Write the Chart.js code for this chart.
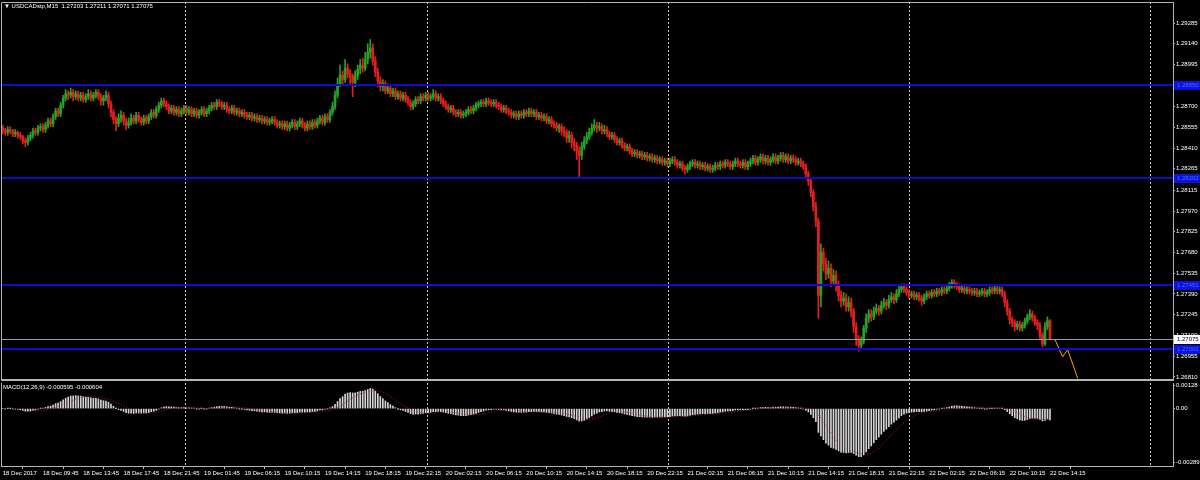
<!DOCTYPE html>
<html><head><meta charset="utf-8">
<script src="https://cdn.jsdelivr.net/npm/chart.js@4.4.1/dist/chart.umd.min.js"></script>
<style>
html,body{margin:0;padding:0;background:#000;overflow:hidden;}
#wrap{position:relative;width:1200px;height:480px;background:#000;}
canvas{position:absolute;left:0;}
#main{top:0;}
#macd{top:381px;}
.lbl{position:absolute;color:#fff;font:6px "Liberation Sans",Arial,sans-serif;white-space:pre;line-height:7px;}
</style></head><body>
<div id="wrap">
<canvas id="main" width="1200" height="381"></canvas>
<canvas id="macd" width="1200" height="99"></canvas>
<div class="lbl" style="left:4px;top:3px;">▼ USDCADstp,M15  1.27203 1.27211 1.27071 1.27075</div>
<div class="lbl" style="left:3px;top:384px;">MACD(12,26,9) -0.000595 -0.000604</div>
</div>
<script>
// ---------- DATA (USDCADstp, M15) ----------
const xLabels = ["18 Dec 2017","18 Dec 09:45","18 Dec 13:45","18 Dec 17:45","18 Dec 21:45","19 Dec 01:45","19 Dec 06:15","19 Dec 10:15","19 Dec 14:15","19 Dec 18:15","19 Dec 22:15","20 Dec 02:15","20 Dec 06:15","20 Dec 10:15","20 Dec 14:15","20 Dec 18:15","20 Dec 22:15","21 Dec 02:15","21 Dec 06:15","21 Dec 10:15","21 Dec 14:15","21 Dec 18:15","21 Dec 22:15","22 Dec 02:15","22 Dec 06:15","22 Dec 10:15","22 Dec 14:15"];
const xLabelBars = [0,16,32,48,64,80,96,112,128,144,160,176,192,208,224,240,256,272,288,304,320,336,352,368,384,400,416];
const daySeparators = [72.4,168.5,264.3,360,455.7];

const open = [
1.2855,1.2853,1.2852,1.2854,1.2853,1.2851,1.2852,1.2850,1.2849,1.2846,
1.2845,1.2848,1.2850,1.2853,1.2852,1.2855,1.2856,1.2854,1.2857,1.2860,
1.2858,1.2863,1.2867,1.2865,1.2871,1.2876,1.2879,1.2878,1.2880,1.2877,
1.2879,1.2876,1.2878,1.2875,1.2877,1.2879,1.2876,1.2878,1.2880,1.2877,
1.2874,1.2876,1.2878,1.2872,1.2866,1.2861,1.2858,1.2862,1.2864,1.2860,
1.2857,1.2859,1.2862,1.2860,1.2864,1.2861,1.2859,1.2862,1.2860,1.2863,
1.2866,1.2864,1.2868,1.2871,1.2874,1.2872,1.2870,1.2867,1.2869,1.2866,
1.2868,1.2865,1.2867,1.2869,1.2866,1.2868,1.2865,1.2867,1.2864,1.2866,
1.2868,1.2865,1.2867,1.2869,1.2871,1.2870,1.2873,1.2872,1.2870,1.2871,
1.2868,1.2867,1.2869,1.2866,1.2867,1.2865,1.2866,1.2864,1.2863,1.2864,
1.2862,1.2863,1.2861,1.2862,1.2860,1.2861,1.2859,1.2860,1.2861,1.2859,
1.2857,1.2858,1.2856,1.2858,1.2855,1.2857,1.2859,1.2856,1.2858,1.2860,
1.2857,1.2855,1.2858,1.2856,1.2859,1.2857,1.2860,1.2862,1.2859,1.2863,
1.2861,1.2866,1.2870,1.2878,1.2886,1.2892,1.2889,1.2897,1.2893,1.2891,
1.2887,1.2892,1.2896,1.2899,1.2897,1.2903,1.2908,1.2911,1.2902,1.2894,
1.2888,1.2884,1.2886,1.2881,1.2883,1.2879,1.2881,1.2877,1.2879,1.2876,
1.2878,1.2875,1.2873,1.2870,1.2872,1.2875,1.2874,1.2877,1.2876,1.2878,
1.2876,1.2877,1.2879,1.2876,1.2877,1.2874,1.2872,1.2870,1.2868,1.2869,
1.2866,1.2865,1.2866,1.2864,1.2865,1.2866,1.2868,1.2867,1.2869,1.2871,
1.2872,1.2873,1.2872,1.2874,1.2873,1.2872,1.2873,1.2871,1.2870,1.2868,
1.2869,1.2867,1.2866,1.2864,1.2865,1.2863,1.2865,1.2864,1.2866,1.2865,
1.2867,1.2865,1.2866,1.2863,1.2864,1.2862,1.2863,1.2860,1.2861,1.2858,
1.2857,1.2855,1.2856,1.2853,1.2852,1.2848,1.2850,1.2845,1.2843,1.2839,
1.2836,1.2842,1.2846,1.2849,1.2852,1.2855,1.2857,1.2855,1.2856,1.2853,
1.2854,1.2851,1.2849,1.2850,1.2847,1.2845,1.2846,1.2843,1.2841,1.2842,
1.2839,1.2837,1.2838,1.2836,1.2837,1.2835,1.2836,1.2834,1.2835,1.2833,
1.2834,1.2832,1.2833,1.2831,1.2832,1.2830,1.2832,1.2833,1.2831,1.2829,
1.2830,1.2827,1.2826,1.2828,1.2830,1.2831,1.2829,1.2830,1.2828,1.2829,
1.2827,1.2828,1.2826,1.2827,1.2829,1.2828,1.2830,1.2829,1.2831,1.2830,
1.2828,1.2830,1.2832,1.2830,1.2829,1.2831,1.2828,1.2830,1.2832,1.2834,
1.2831,1.2833,1.2835,1.2832,1.2834,1.2831,1.2833,1.2835,1.2832,1.2834,
1.2836,1.2833,1.2835,1.2832,1.2834,1.2833,1.2831,1.2832,1.2830,1.2828,
1.2823,1.2818,1.2810,1.2800,1.2790,1.2738,1.2768,1.2760,1.2753,1.2757,
1.2748,1.2752,1.2745,1.2738,1.2734,1.2736,1.2730,1.2733,1.2727,1.2716,
1.2707,1.2703,1.2706,1.2715,1.2722,1.2725,1.2723,1.2727,1.2729,1.2727,
1.2731,1.2733,1.2731,1.2735,1.2737,1.2735,1.2739,1.2742,1.2744,1.2742,
1.2740,1.2738,1.2739,1.2737,1.2738,1.2736,1.2734,1.2737,1.2739,1.2738,
1.2740,1.2739,1.2741,1.2740,1.2742,1.2741,1.2743,1.2745,1.2747,1.2745,
1.2744,1.2742,1.2743,1.2741,1.2742,1.2741,1.2740,1.2741,1.2739,1.2740,
1.2741,1.2739,1.2740,1.2742,1.2741,1.2743,1.2741,1.2742,1.2739,1.2733,
1.2727,1.2721,1.2719,1.2716,1.2718,1.2715,1.2717,1.2720,1.2723,1.2725,
1.2722,1.2719,1.2717,1.2710,1.2704,1.2716,1.27203];

const high = [
1.2857,1.2855,1.2856,1.2856,1.2854,1.2854,1.2853,1.2852,1.2850,1.2848,
1.2850,1.2852,1.2855,1.2855,1.2857,1.2858,1.2858,1.2859,1.2862,1.2862,
1.2865,1.2869,1.2869,1.2873,1.2878,1.2882,1.2881,1.2883,1.2882,1.2881,
1.2881,1.2880,1.2880,1.2879,1.2882,1.2881,1.2880,1.2882,1.2882,1.2879,
1.2878,1.2881,1.2880,1.2874,1.2868,1.2863,1.2865,1.2867,1.2866,1.2862,
1.2862,1.2865,1.2864,1.2866,1.2866,1.2863,1.2864,1.2864,1.2865,1.2868,
1.2868,1.2870,1.2873,1.2876,1.2876,1.2874,1.2872,1.2871,1.2871,1.2870,
1.2870,1.2869,1.2871,1.2871,1.2870,1.2870,1.2869,1.2869,1.2868,1.2870,
1.2870,1.2869,1.2871,1.2873,1.2873,1.2875,1.2875,1.2874,1.2873,1.2873,
1.2870,1.2871,1.2871,1.2869,1.2869,1.2868,1.2868,1.2866,1.2866,1.2866,
1.2865,1.2865,1.2864,1.2864,1.2863,1.2863,1.2862,1.2863,1.2863,1.2861,
1.2860,1.2860,1.2860,1.2860,1.2859,1.2861,1.2861,1.2860,1.2862,1.2862,
1.2859,1.2860,1.2860,1.2861,1.2861,1.2862,1.2864,1.2864,1.2865,1.2865,
1.2868,1.2873,1.2881,1.2890,1.2899,1.2895,1.2903,1.2900,1.2896,1.2893,
1.2895,1.2899,1.2903,1.2904,1.2908,1.2914,1.2917,1.2914,1.2905,1.2897,
1.2891,1.2889,1.2888,1.2886,1.2885,1.2883,1.2883,1.2881,1.2881,1.2880,
1.2880,1.2877,1.2875,1.2874,1.2877,1.2877,1.2879,1.2879,1.2880,1.2880,
1.2879,1.2882,1.2881,1.2879,1.2879,1.2876,1.2874,1.2872,1.2871,1.2871,
1.2868,1.2868,1.2868,1.2867,1.2868,1.2870,1.2870,1.2871,1.2873,1.2874,
1.2875,1.2875,1.2876,1.2876,1.2875,1.2875,1.2875,1.2873,1.2872,1.2871,
1.2871,1.2869,1.2868,1.2867,1.2867,1.2867,1.2867,1.2868,1.2868,1.2869,
1.2869,1.2868,1.2868,1.2866,1.2866,1.2865,1.2865,1.2863,1.2863,1.2860,
1.2859,1.2858,1.2858,1.2856,1.2854,1.2853,1.2852,1.2848,1.2845,1.2842,
1.2845,1.2849,1.2852,1.2855,1.2858,1.2861,1.2859,1.2859,1.2858,1.2857,
1.2856,1.2853,1.2852,1.2852,1.2849,1.2848,1.2848,1.2845,1.2844,1.2844,
1.2841,1.2840,1.2840,1.2839,1.2839,1.2838,1.2838,1.2837,1.2837,1.2836,
1.2836,1.2835,1.2835,1.2834,1.2834,1.2834,1.2835,1.2835,1.2833,1.2832,
1.2832,1.2829,1.2830,1.2832,1.2833,1.2833,1.2832,1.2832,1.2831,1.2831,
1.2830,1.2830,1.2829,1.2831,1.2831,1.2832,1.2832,1.2833,1.2833,1.2832,
1.2832,1.2834,1.2834,1.2832,1.2833,1.2833,1.2832,1.2834,1.2836,1.2836,
1.2835,1.2837,1.2837,1.2836,1.2836,1.2835,1.2837,1.2837,1.2836,1.2838,
1.2838,1.2837,1.2837,1.2836,1.2836,1.2835,1.2834,1.2834,1.2832,1.2830,
1.2825,1.2820,1.2812,1.2803,1.2792,1.2774,1.2771,1.2764,1.2762,1.2760,
1.2756,1.2755,1.2748,1.2741,1.2740,1.2739,1.2737,1.2736,1.2729,1.2719,
1.2710,1.2709,1.2717,1.2725,1.2728,1.2728,1.2730,1.2732,1.2731,1.2734,
1.2736,1.2735,1.2738,1.2740,1.2739,1.2742,1.2745,1.2746,1.2746,1.2744,
1.2742,1.2741,1.2741,1.2740,1.2740,1.2738,1.2739,1.2741,1.2741,1.2742,
1.2742,1.2743,1.2743,1.2744,1.2744,1.2745,1.2747,1.2749,1.2749,1.2747,
1.2746,1.2745,1.2745,1.2744,1.2744,1.2743,1.2743,1.2743,1.2742,1.2743,
1.2743,1.2742,1.2744,1.2744,1.2745,1.2745,1.2744,1.2744,1.2741,1.2735,
1.2729,1.2723,1.2721,1.2720,1.2720,1.2719,1.2722,1.2725,1.2728,1.2727,
1.2724,1.2721,1.2719,1.2712,1.2719,1.2723,1.27211];

const low = [
1.2851,1.2850,1.2850,1.2851,1.2849,1.2849,1.2848,1.2847,1.2844,1.2842,
1.2843,1.2846,1.2848,1.2850,1.2850,1.2853,1.2852,1.2852,1.2855,1.2856,
1.2856,1.2861,1.2863,1.2863,1.2869,1.2874,1.2875,1.2876,1.2874,1.2875,
1.2874,1.2874,1.2873,1.2873,1.2875,1.2874,1.2874,1.2876,1.2875,1.2871,
1.2871,1.2874,1.2869,1.2863,1.2858,1.2853,1.2856,1.2859,1.2857,1.2854,
1.2855,1.2857,1.2858,1.2858,1.2859,1.2857,1.2857,1.2858,1.2858,1.2861,
1.2862,1.2862,1.2866,1.2869,1.2870,1.2868,1.2865,1.2865,1.2864,1.2864,
1.2863,1.2863,1.2865,1.2864,1.2864,1.2863,1.2863,1.2862,1.2862,1.2864,
1.2863,1.2863,1.2865,1.2867,1.2868,1.2868,1.2870,1.2868,1.2868,1.2866,
1.2865,1.2865,1.2864,1.2864,1.2863,1.2863,1.2862,1.2861,1.2861,1.2860,
1.2860,1.2859,1.2859,1.2858,1.2858,1.2857,1.2857,1.2858,1.2857,1.2855,
1.2855,1.2854,1.2854,1.2853,1.2853,1.2855,1.2854,1.2854,1.2856,1.2855,
1.2853,1.2853,1.2854,1.2854,1.2855,1.2855,1.2858,1.2857,1.2857,1.2859,
1.2859,1.2864,1.2868,1.2876,1.2884,1.2885,1.2887,1.2890,1.2886,1.2877,
1.2884,1.2889,1.2893,1.2894,1.2895,1.2900,1.2904,1.2899,1.2891,1.2884,
1.2881,1.2881,1.2879,1.2879,1.2877,1.2877,1.2875,1.2875,1.2874,1.2874,
1.2873,1.2871,1.2868,1.2868,1.2870,1.2872,1.2872,1.2874,1.2874,1.2874,
1.2874,1.2875,1.2874,1.2874,1.2872,1.2870,1.2868,1.2866,1.2866,1.2864,
1.2863,1.2863,1.2862,1.2862,1.2863,1.2864,1.2865,1.2865,1.2867,1.2869,
1.2870,1.2870,1.2870,1.2871,1.2870,1.2870,1.2869,1.2868,1.2866,1.2866,
1.2865,1.2864,1.2862,1.2862,1.2861,1.2861,1.2862,1.2862,1.2863,1.2863,
1.2863,1.2863,1.2861,1.2861,1.2860,1.2860,1.2858,1.2858,1.2856,1.2855,
1.2853,1.2852,1.2850,1.2849,1.2845,1.2845,1.2841,1.2839,1.2833,1.2820,
1.2833,1.2840,1.2844,1.2847,1.2850,1.2853,1.2852,1.2853,1.2851,1.2851,
1.2849,1.2847,1.2847,1.2845,1.2843,1.2843,1.2841,1.2839,1.2839,1.2837,
1.2835,1.2835,1.2834,1.2834,1.2833,1.2833,1.2832,1.2832,1.2831,1.2831,
1.2830,1.2830,1.2829,1.2829,1.2828,1.2828,1.2830,1.2829,1.2827,1.2827,
1.2825,1.2823,1.2824,1.2826,1.2828,1.2827,1.2827,1.2826,1.2826,1.2825,
1.2825,1.2824,1.2824,1.2825,1.2826,1.2826,1.2827,1.2827,1.2828,1.2826,
1.2826,1.2828,1.2828,1.2827,1.2827,1.2826,1.2826,1.2828,1.2830,1.2829,
1.2829,1.2831,1.2830,1.2830,1.2829,1.2829,1.2831,1.2830,1.2830,1.2832,
1.2831,1.2831,1.2830,1.2830,1.2831,1.2829,1.2829,1.2828,1.2826,1.2821,
1.2815,1.2807,1.2797,1.2786,1.2722,1.2730,1.2755,1.2749,1.2750,1.2744,
1.2745,1.2741,1.2734,1.2730,1.2731,1.2727,1.2727,1.2723,1.2712,1.2703,
1.2699,1.2700,1.2704,1.2712,1.2719,1.2720,1.2721,1.2725,1.2724,1.2725,
1.2729,1.2728,1.2729,1.2733,1.2732,1.2733,1.2737,1.2740,1.2740,1.2738,
1.2736,1.2736,1.2735,1.2735,1.2734,1.2731,1.2732,1.2735,1.2736,1.2736,
1.2737,1.2737,1.2738,1.2738,1.2739,1.2739,1.2741,1.2743,1.2743,1.2742,
1.2740,1.2740,1.2739,1.2739,1.2739,1.2738,1.2738,1.2737,1.2737,1.2738,
1.2737,1.2737,1.2738,1.2739,1.2739,1.2739,1.2739,1.2737,1.2730,1.2724,
1.2718,1.2716,1.2713,1.2714,1.2713,1.2713,1.2715,1.2718,1.2721,1.2720,
1.2717,1.2714,1.2707,1.2702,1.2703,1.2714,1.27071];

const close = [
1.2853,1.2852,1.2854,1.2853,1.2851,1.2852,1.2850,1.2849,1.2846,1.2845,
1.2848,1.2850,1.2853,1.2852,1.2855,1.2856,1.2854,1.2857,1.2860,1.2858,
1.2863,1.2867,1.2865,1.2871,1.2876,1.2879,1.2878,1.2880,1.2877,1.2879,
1.2876,1.2878,1.2875,1.2877,1.2879,1.2876,1.2878,1.2880,1.2877,1.2874,
1.2876,1.2878,1.2872,1.2866,1.2861,1.2858,1.2862,1.2864,1.2860,1.2857,
1.2859,1.2862,1.2860,1.2864,1.2861,1.2859,1.2862,1.2860,1.2863,1.2866,
1.2864,1.2868,1.2871,1.2874,1.2872,1.2870,1.2867,1.2869,1.2866,1.2868,
1.2865,1.2867,1.2869,1.2866,1.2868,1.2865,1.2867,1.2864,1.2866,1.2868,
1.2865,1.2867,1.2869,1.2871,1.2870,1.2873,1.2872,1.2870,1.2871,1.2868,
1.2867,1.2869,1.2866,1.2867,1.2865,1.2866,1.2864,1.2863,1.2864,1.2862,
1.2863,1.2861,1.2862,1.2860,1.2861,1.2859,1.2860,1.2861,1.2859,1.2857,
1.2858,1.2856,1.2858,1.2855,1.2857,1.2859,1.2856,1.2858,1.2860,1.2857,
1.2855,1.2858,1.2856,1.2859,1.2857,1.2860,1.2862,1.2859,1.2863,1.2861,
1.2866,1.2870,1.2878,1.2886,1.2892,1.2889,1.2897,1.2893,1.2891,1.2887,
1.2892,1.2896,1.2899,1.2897,1.2903,1.2908,1.2911,1.2902,1.2894,1.2888,
1.2884,1.2886,1.2881,1.2883,1.2879,1.2881,1.2877,1.2879,1.2876,1.2878,
1.2875,1.2873,1.2870,1.2872,1.2875,1.2874,1.2877,1.2876,1.2878,1.2876,
1.2877,1.2879,1.2876,1.2877,1.2874,1.2872,1.2870,1.2868,1.2869,1.2866,
1.2865,1.2866,1.2864,1.2865,1.2866,1.2868,1.2867,1.2869,1.2871,1.2872,
1.2873,1.2872,1.2874,1.2873,1.2872,1.2873,1.2871,1.2870,1.2868,1.2869,
1.2867,1.2866,1.2864,1.2865,1.2863,1.2865,1.2864,1.2866,1.2865,1.2867,
1.2865,1.2866,1.2863,1.2864,1.2862,1.2863,1.2860,1.2861,1.2858,1.2857,
1.2855,1.2856,1.2853,1.2852,1.2848,1.2850,1.2845,1.2843,1.2839,1.2836,
1.2842,1.2846,1.2849,1.2852,1.2855,1.2857,1.2855,1.2856,1.2853,1.2854,
1.2851,1.2849,1.2850,1.2847,1.2845,1.2846,1.2843,1.2841,1.2842,1.2839,
1.2837,1.2838,1.2836,1.2837,1.2835,1.2836,1.2834,1.2835,1.2833,1.2834,
1.2832,1.2833,1.2831,1.2832,1.2830,1.2832,1.2833,1.2831,1.2829,1.2830,
1.2827,1.2826,1.2828,1.2830,1.2831,1.2829,1.2830,1.2828,1.2829,1.2827,
1.2828,1.2826,1.2827,1.2829,1.2828,1.2830,1.2829,1.2831,1.2830,1.2828,
1.2830,1.2832,1.2830,1.2829,1.2831,1.2828,1.2830,1.2832,1.2834,1.2831,
1.2833,1.2835,1.2832,1.2834,1.2831,1.2833,1.2835,1.2832,1.2834,1.2836,
1.2833,1.2835,1.2832,1.2834,1.2833,1.2831,1.2832,1.2830,1.2828,1.2823,
1.2818,1.2810,1.2800,1.2790,1.2738,1.2768,1.2760,1.2753,1.2757,1.2748,
1.2752,1.2745,1.2738,1.2734,1.2736,1.2730,1.2733,1.2727,1.2716,1.2707,
1.2703,1.2706,1.2715,1.2722,1.2725,1.2723,1.2727,1.2729,1.2727,1.2731,
1.2733,1.2731,1.2735,1.2737,1.2735,1.2739,1.2742,1.2744,1.2742,1.2740,
1.2738,1.2739,1.2737,1.2738,1.2736,1.2734,1.2737,1.2739,1.2738,1.2740,
1.2739,1.2741,1.2740,1.2742,1.2741,1.2743,1.2745,1.2747,1.2745,1.2744,
1.2742,1.2743,1.2741,1.2742,1.2741,1.2740,1.2741,1.2739,1.2740,1.2741,
1.2739,1.2740,1.2742,1.2741,1.2743,1.2741,1.2742,1.2739,1.2733,1.2727,
1.2721,1.2719,1.2716,1.2718,1.2715,1.2717,1.2720,1.2723,1.2725,1.2722,
1.2719,1.2717,1.2710,1.2704,1.2716,1.27203,1.27075];

// horizontal objects & forecast line
const levelPrices = [1.28850, 1.28202, 1.27451, 1.27003];
const bidPrice = 1.27075;
const forecastBars = [418, 421, 423, 427];
const forecastPrices = [1.2707, 1.2695, 1.2700, 1.2680];

// axis ticks
const priceTicks = [1.29285,1.29140,1.28995,1.28850,1.28700,1.28555,1.28410,1.28265,1.28115,1.27970,1.27825,1.27680,1.27535,1.27390,1.27245,1.27100,1.26955,1.26810];
const macdTicks = [0.00128, 0, -0.002898];
const macdTickLabels = ["0.00128","0.00","-0.002898"];

// ---------- STYLE ----------
const FONT = '"Liberation Sans", Arial, sans-serif';
const BULL = '#25a325', BEAR = '#e5201c';
const AXIS = '#b4b4b4';
const X_MIN = -0.683, X_MAX = 464.86;

// MACD(12,26,9) from the closes (MT4 style: signal = SMA of main)
const macdMain = [];
let e12 = close[0], e26 = close[0];
close.forEach((c, i) => {
  if (i > 0) { e12 += (2/13) * (c - e12); e26 += (2/27) * (c - e26); }
  macdMain.push(e12 - e26);
});
const macdSignal = macdMain.map((m, i) => {
  if (i < 8) return null;
  let s = 0; for (let j = i - 8; j <= i; j++) s += macdMain[j];
  return s / 9;
});

const candleColors = close.map((c, i) => c >= open[i] ? BULL : BEAR);

function noPad(s) { s.paddingTop = 0; s.paddingBottom = 0; s.paddingLeft = 0; s.paddingRight = 0; }

const separatorPlugin = {
  id: 'seps',
  beforeDatasetsDraw(chart) {
    const { ctx, chartArea: a, scales: { x } } = chart;
    ctx.save();
    ctx.strokeStyle = '#c8c8c8'; ctx.lineWidth = 1; ctx.setLineDash([2, 2]);
    daySeparators.forEach(v => {
      const px = Math.round(x.getPixelForValue(v)) + 0.5;
      ctx.beginPath(); ctx.moveTo(px, a.top); ctx.lineTo(px, a.bottom); ctx.stroke();
    });
    ctx.restore();
  }
};

const mainOverlay = {
  id: 'mainOverlay',
  afterDatasetsDraw(chart) {
    const { ctx, chartArea: a, scales: { y } } = chart;
    ctx.save();
    const by = Math.round(y.getPixelForValue(bidPrice)) + 0.5;
    ctx.strokeStyle = '#9a9a9a'; ctx.lineWidth = 1;
    ctx.beginPath(); ctx.moveTo(a.left, by); ctx.lineTo(a.right, by); ctx.stroke();
    ctx.strokeStyle = '#0b0bd0'; ctx.lineWidth = 2;
    levelPrices.forEach(p => {
      const py = Math.round(y.getPixelForValue(p));
      ctx.beginPath(); ctx.moveTo(a.left, py); ctx.lineTo(a.right, py); ctx.stroke();
    });
    ctx.restore();
  },
  afterDraw(chart) {
    const { ctx, chartArea: a, scales: { y } } = chart;
    ctx.save();
    ctx.strokeStyle = AXIS; ctx.lineWidth = 1;
    ctx.beginPath();
    ctx.moveTo(a.left + 0.5, a.bottom); ctx.lineTo(a.left + 0.5, a.top + 0.5); ctx.lineTo(a.right, a.top + 0.5);
    ctx.stroke();
    ctx.lineWidth = 2;
    ctx.beginPath(); ctx.moveTo(a.left, a.bottom); ctx.lineTo(a.right, a.bottom); ctx.stroke();
    ctx.font = '6px ' + FONT; ctx.textBaseline = 'middle'; ctx.textAlign = 'left';
    levelPrices.forEach(p => {
      const py = Math.round(y.getPixelForValue(p));
      ctx.fillStyle = '#0b14dc'; ctx.fillRect(a.right + 1, py - 4, 27, 9);
      ctx.fillStyle = '#4d68ff'; ctx.fillText(p.toFixed(5), a.right + 4, py + 0.5);
    });
    const by = Math.round(y.getPixelForValue(bidPrice));
    ctx.fillStyle = '#ffffff'; ctx.fillRect(a.right + 1, by - 4, 27, 9);
    ctx.fillStyle = '#000000'; ctx.fillText(bidPrice.toFixed(5), a.right + 4, by + 0.5);
    ctx.restore();
  }
};

const macdOverlay = {
  id: 'macdOverlay',
  afterDraw(chart) {
    const { ctx, chartArea: a } = chart;
    ctx.save();
    ctx.strokeStyle = AXIS; ctx.lineWidth = 1;
    ctx.beginPath(); ctx.moveTo(a.left + 0.5, a.bottom); ctx.lineTo(a.left + 0.5, a.top); ctx.stroke();
    ctx.restore();
  }
};

Chart.defaults.font.family = FONT;
Chart.defaults.color = '#ffffff';

new Chart(document.getElementById('main'), {
  type: 'bar',
  data: {
    datasets: [
      { type: 'bar', label: 'wick', data: close.map((c, i) => ({ x: i, y: [low[i], high[i]] })),
        backgroundColor: candleColors, barThickness: 1, grouped: false, order: 3 },
      { type: 'bar', label: 'body', data: close.map((c, i) => ({ x: i, y: [open[i], c] })),
        backgroundColor: candleColors, barThickness: 2, grouped: false, minBarLength: 1, order: 2 },
      { type: 'line', label: 'forecast', data: forecastBars.map((b, j) => ({ x: b, y: forecastPrices[j] })),
        borderColor: '#ffa000', borderWidth: 1, pointRadius: 0, order: 1 }
    ]
  },
  options: {
    responsive: false, animation: false, devicePixelRatio: 1, events: [],
    layout: { padding: { top: 2, left: 1, right: 0, bottom: 1 } },
    plugins: { legend: { display: false }, tooltip: { enabled: false } },
    scales: {
      x: { type: 'linear', min: X_MIN, max: X_MAX, offset: false, display: false },
      y: {
        position: 'right', min: 1.26788, max: 1.29432,
        afterFit(s) { s.width = 27; noPad(s); },
        afterBuildTicks(s) { s.ticks = priceTicks.map(v => ({ value: v })); },
        ticks: { autoSkip: false, padding: 1, color: '#ffffff', font: { size: 6 }, callback: v => Number(v).toFixed(5) },
        grid: { drawOnChartArea: false, drawTicks: true, tickLength: 2, color: AXIS },
        border: { display: true, color: AXIS }
      }
    }
  },
  plugins: [separatorPlugin, mainOverlay]
});

new Chart(document.getElementById('macd'), {
  type: 'bar',
  data: {
    datasets: [
      { type: 'bar', label: 'MACD', data: macdMain.map((m, i) => ({ x: i, y: m })),
        backgroundColor: '#d4d4d4', barThickness: 1, grouped: false, order: 2 },
      { type: 'line', label: 'Signal', data: macdSignal.map((s, i) => ({ x: i, y: s })),
        borderColor: '#d01818', borderWidth: 1, borderDash: [1, 2], pointRadius: 0, order: 1 }
    ]
  },
  options: {
    responsive: false, animation: false, devicePixelRatio: 1, events: [],
    layout: { padding: { top: 2, left: 1, right: 0, bottom: 0 } },
    plugins: { legend: { display: false }, tooltip: { enabled: false } },
    scales: {
      x: {
        type: 'linear', min: X_MIN, max: X_MAX, offset: false, position: 'bottom',
        afterFit(s) { s.height = 14; noPad(s); },
        afterBuildTicks(s) { s.ticks = xLabelBars.map(v => ({ value: v })); },
        ticks: { autoSkip: false, maxRotation: 0, align: 'start', padding: 1, color: '#ffffff', font: { size: 6 },
                 callback: (v, idx) => xLabels[idx] },
        grid: { drawOnChartArea: false, drawTicks: true, tickLength: 3, color: AXIS },
        border: { display: true, color: AXIS }
      },
      y: {
        position: 'right', min: -0.003115, max: 0.001389,
        afterFit(s) { s.width = 27; noPad(s); },
        afterBuildTicks(s) { s.ticks = macdTicks.map(v => ({ value: v })); },
        ticks: { autoSkip: false, padding: 1, color: '#ffffff', font: { size: 6 },
                 callback: (v, idx) => macdTickLabels[idx] },
        grid: { drawOnChartArea: false, drawTicks: true, tickLength: 2, color: AXIS },
        border: { display: true, color: AXIS }
      }
    }
  },
  plugins: [separatorPlugin, macdOverlay]
});
</script>
</body></html>
